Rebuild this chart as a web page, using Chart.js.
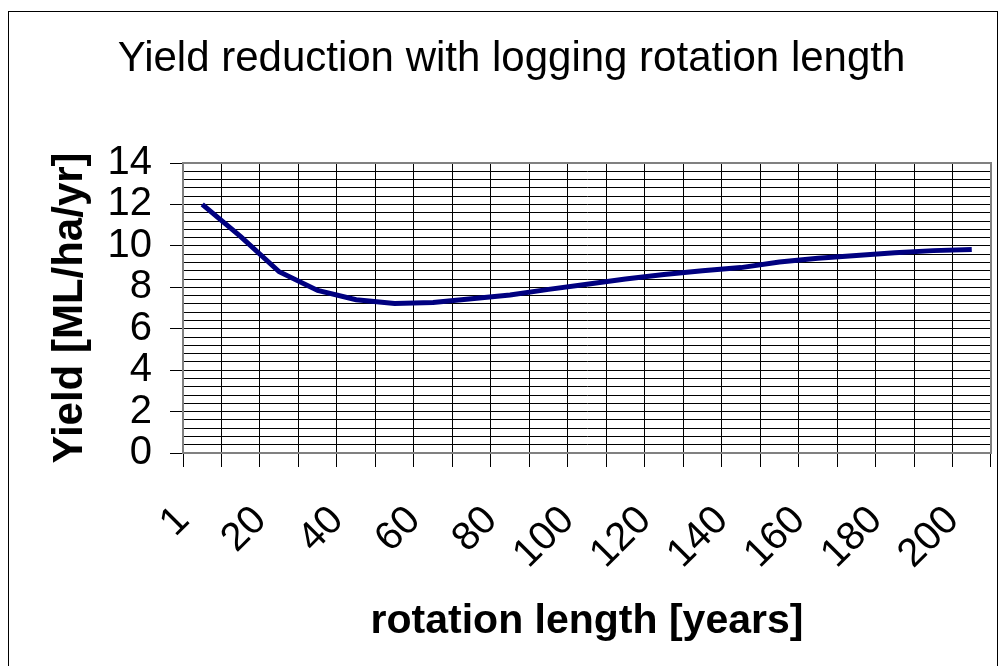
<!DOCTYPE html>
<html>
<head>
<meta charset="utf-8">
<script src="https://cdn.jsdelivr.net/npm/chart.js@4"></script>
<style>
  html, body { margin: 0; padding: 0; background: #fff; }
  #yieldChart { display: block; }
</style>
</head>
<body>
<canvas id="yieldChart" width="999" height="666"></canvas>
<script>
// rotation length categories (years) and yield
const rotationYears = ['1', '10', '20', '30', '40', '50', '60', '70', '80', '90', '100',
  '110', '120', '130', '140', '150', '160', '170', '180', '190', '200'];
const yieldValues = [12.0, 10.45, 8.75, 7.85, 7.4, 7.22, 7.27, 7.45, 7.63, 7.9, 8.15,
  8.4, 8.62, 8.8, 8.95, 9.22, 9.4, 9.53, 9.67, 9.77, 9.83];
const xTickLabels = ['1', '20', '40', '60', '80', '100', '120', '140', '160', '180', '200'];
const yTickLabels = [0, 2, 4, 6, 8, 10, 12, 14];

Chart.defaults.color = '#000';
Chart.defaults.font.family = '"Liberation Sans", Arial, sans-serif';

const isMajor = v => yTickLabels.includes(+(+v).toFixed(1));

// outer frame + grey plot border like the old Excel chart
const framePlugin = {
  id: 'frame',
  beforeDraw(chart) {
    const c = chart.ctx;
    c.save();
    c.fillStyle = '#fff';
    c.fillRect(0, 0, chart.width, chart.height);
    c.strokeStyle = '#000';
    c.lineWidth = 1;
    c.strokeRect(8.5, 11.5, 989, 700);
    c.restore();
  },
  beforeDatasetsDraw(chart) {
    const a = chart.chartArea;
    const c = chart.ctx;
    c.save();
    c.strokeStyle = '#808080';
    c.lineWidth = 2;
    c.strokeRect(a.left, a.top, a.right - a.left, a.bottom - a.top);
    c.restore();
  }
};

new Chart(document.getElementById('yieldChart'), {
  type: 'line',
  data: {
    labels: rotationYears,
    datasets: [{
      data: yieldValues,
      borderColor: '#000080',
      borderWidth: 5,
      pointRadius: 0,
      tension: 0,
      fill: false
    }]
  },
  options: {
    responsive: false,
    animation: false,
    layout: { padding: { left: 32, right: 8, top: 0, bottom: 0 } },
    plugins: {
      legend: { display: false },
      tooltip: { enabled: false },
      title: {
        display: true,
        text: 'Yield reduction with logging rotation length',
        font: { size: 42, weight: 'normal', lineHeight: 1.2 },
        padding: { top: 34, bottom: 78.6 }
      }
    },
    scales: {
      x: {
        offset: true,
        afterFit(scale) {
          scale.height = 213;
          scale.paddingLeft = 0;
          scale.paddingRight = 0;
        },
        grid: { offset: true, color: '#000', lineWidth: 1, tickLength: 14, tickColor: '#000' },
        border: { color: '#808080', width: 2 },
        ticks: {
          autoSkip: false,
          minRotation: 45,
          maxRotation: 45,
          padding: 30,
          labelOffset: -19,
          font: { size: 40 },
          callback(v, i) {
            const lab = rotationYears[i];
            return xTickLabels.includes(lab) ? lab : '';
          }
        },
        title: {
          display: true,
          text: 'rotation length [years]',
          font: { size: 41, weight: 'bold', lineHeight: 1.2 },
          padding: { top: 0, bottom: 20 }
        }
      },
      y: {
        min: 0,
        max: 14,
        afterFit(scale) { scale.width = 151; },
        grid: {
          color: '#000',
          lineWidth: 1,
          tickLength: 13,
          tickColor: ctx => isMajor(ctx.tick.value) ? '#000' : 'rgba(0,0,0,0)'
        },
        border: { color: '#808080', width: 2 },
        ticks: {
          stepSize: 0.4,
          autoSkip: false,
          padding: 18,
          font: { size: 40 },
          callback: v => isMajor(v) ? String(Math.round(v)) : ''
        },
        title: {
          display: true,
          text: 'Yield [ML/ha/yr]',
          font: { size: 42, weight: 'bold', lineHeight: 1.2 },
          padding: { top: 12.8, bottom: 0 }
        }
      }
    }
  },
  plugins: [framePlugin]
});
</script>
</body>
</html>
